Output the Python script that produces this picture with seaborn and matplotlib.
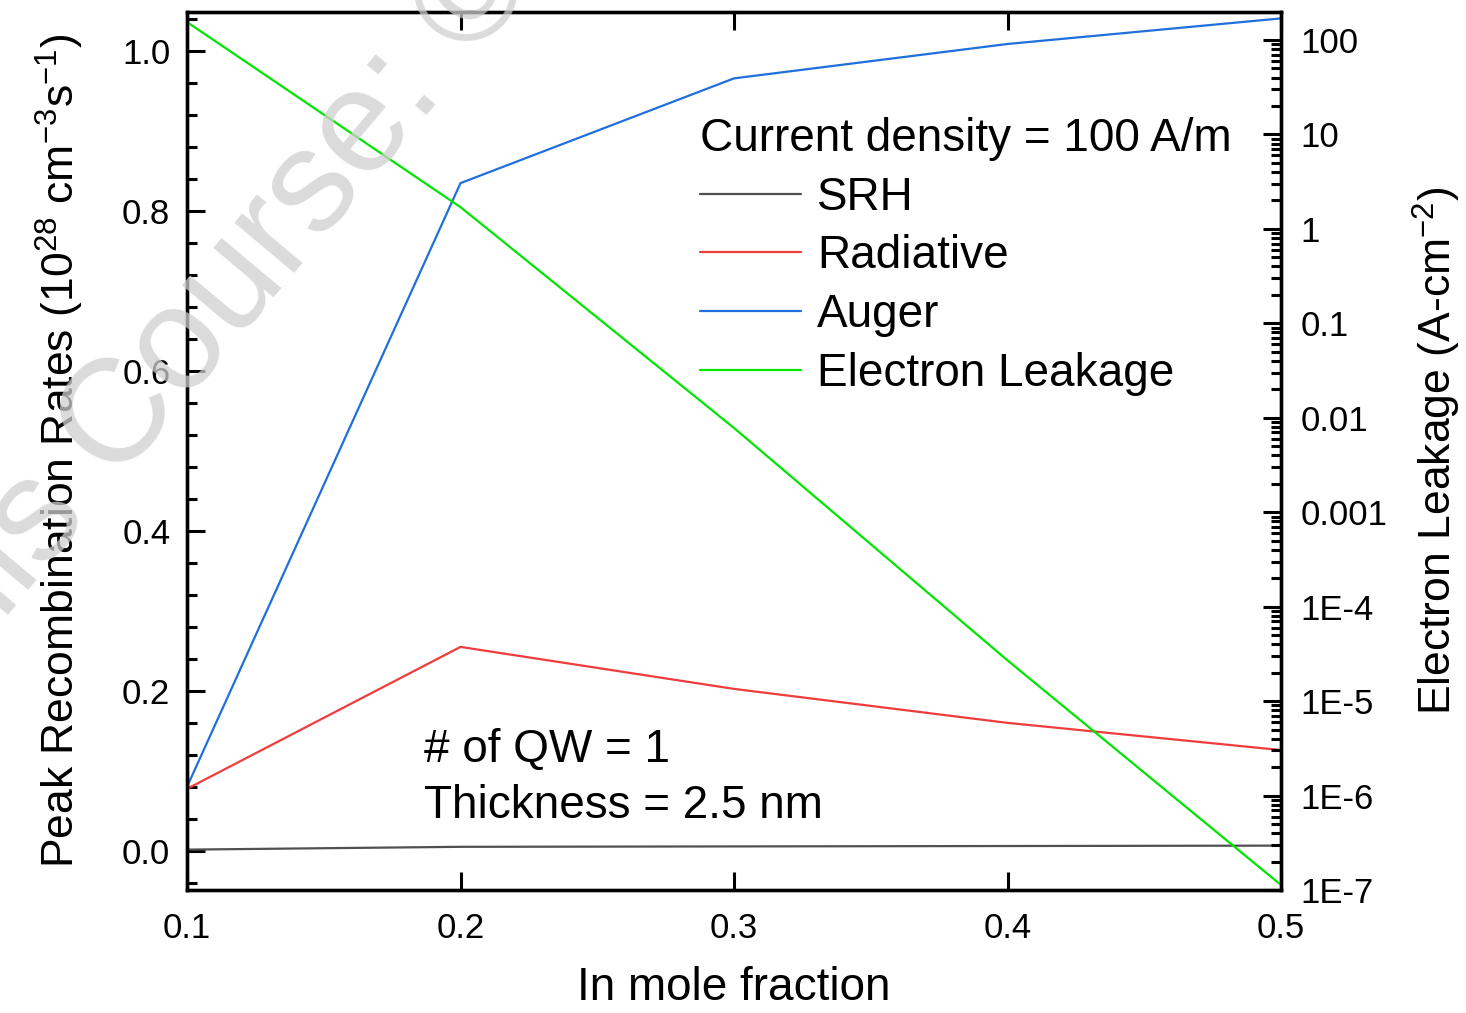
import numpy as np
import pandas as pd
import matplotlib
matplotlib.use("Agg")
import matplotlib.pyplot as plt
import seaborn as sns
from matplotlib.ticker import FixedLocator, MultipleLocator, LogLocator, NullFormatter, FuncFormatter

# data
in_fraction = [0.1, 0.2, 0.3, 0.4, 0.5]
srh = [0.0015, 0.005, 0.0055, 0.006, 0.0065]
radiative = [0.0775, 0.255, 0.2025, 0.16, 0.126]
auger = [0.08, 0.835, 0.966, 1.009, 1.041]
leakage = [155.0, 1.7, 0.0078, 2.7e-5, 1.13e-7]

right_ticks = [1e-7, 1e-6, 1e-5, 1e-4, 1e-3, 1e-2, 1e-1, 1, 10, 100]
right_labels = ["1E-7", "1E-6", "1E-5", "1E-4", "0.001", "0.01", "0.1", "1", "10", "100"]

df = pd.DataFrame({"x": in_fraction, "SRH": srh, "Radiative": radiative,
                   "Auger": auger, "Electron Leakage": leakage})

sns.set_theme(style="ticks")
plt.rcParams["font.family"] = ["Liberation Sans", "DejaVu Sans"]
plt.rcParams["mathtext.fontset"] = "custom"
plt.rcParams["mathtext.rm"] = "Liberation Sans"
plt.rcParams["mathtext.it"] = "Liberation Sans"
plt.rcParams.update({"text.color": "black", "axes.labelcolor": "black",
                     "xtick.color": "black", "ytick.color": "black"})

fig = plt.figure(figsize=(14.66, 10.13), dpi=100)
ax = fig.add_axes([187 / 1466, 1 - 890 / 1013, (1281 - 187) / 1466, (890 - 12) / 1013])
ax2 = ax.twinx()

colors = {"SRH": "#505050", "Radiative": "#f03c3c", "Auger": "#1f6fdc", "Electron Leakage": "#00e600"}
for name in ["SRH", "Radiative", "Auger"]:
    sns.lineplot(data=df, x="x", y=name, ax=ax, color=colors[name], lw=1.6, label=name, legend=False)
sns.lineplot(data=df, x="x", y="Electron Leakage", ax=ax2, color=colors["Electron Leakage"],
             lw=1.6, label="Electron Leakage", legend=False)

ax.set_xlim(0.1, 0.5)
ax.set_ylim(-0.049, 1.049)
ax2.set_yscale("log")
ax2.set_ylim(1e-7, 198)

tick_kw = dict(direction="in", width=2.2, labelsize=25, colors="black")
ax.xaxis.set_major_locator(MultipleLocator(0.1))
ax.xaxis.set_major_formatter(FuncFormatter(lambda v, p: f"{v:.1f}"))
ax.yaxis.set_major_locator(MultipleLocator(0.2))
ax.yaxis.set_minor_locator(MultipleLocator(0.04))
ax.yaxis.set_major_formatter(FuncFormatter(lambda v, p: f"{v:.1f}"))
ax.tick_params(axis="x", which="major", length=13, top=True, pad=16, **tick_kw)
ax.tick_params(axis="y", which="major", length=13, right=False, pad=12, **tick_kw)
ax.tick_params(axis="y", which="minor", length=7, right=False, direction="in", width=2.2)

ax2.yaxis.set_major_locator(FixedLocator(right_ticks))
ax2.yaxis.set_major_formatter(FuncFormatter(lambda v, p: right_labels[right_ticks.index(min(right_ticks, key=lambda t: abs(np.log10(t) - np.log10(v))))]))
ax2.yaxis.set_minor_locator(LogLocator(base=10, subs=np.arange(2, 10), numticks=30))
ax2.yaxis.set_minor_formatter(NullFormatter())
ax2.tick_params(axis="y", which="major", length=13, pad=14, **tick_kw)
ax2.tick_params(axis="y", which="minor", length=7, direction="in", width=2.2)

for a in (ax, ax2):
    for s in a.spines.values():
        s.set_linewidth(2.4)
        s.set_color("black")

ax.set_xlabel("In mole fraction", fontsize=33, labelpad=15)
ax.set_ylabel(r"Peak Recombination Rates (10$^{28}$ cm$^{-3}$s$^{-1}$)", fontsize=32, labelpad=26)
ax2.set_ylabel(r"Electron Leakage (A-cm$^{-2}$)", fontsize=32, labelpad=17)

handles = ax.get_lines()[:3] + ax2.get_lines()[:1]
labels = ["SRH", "Radiative", "Auger", "Electron Leakage"]
leg = ax.legend(handles, labels, title="Current density = 100 A/m", loc="upper left",
                bbox_to_anchor=(700 / 1466, 1 - 117 / 1013), bbox_transform=fig.transFigure,
                frameon=False, fontsize=33, title_fontsize=33, handlelength=2.2,
                handletextpad=0.35, labelspacing=0.32, borderpad=0, borderaxespad=0,
                alignment="left")

ax.text(424 / 1466, 1 - 750 / 1013, "# of QW = 1", transform=fig.transFigure,
        fontsize=33, va="center", ha="left")
ax.text(424 / 1466, 1 - 806 / 1013, "Thickness = 2.5 nm", transform=fig.transFigure,
        fontsize=33, va="center", ha="left")

# faint watermark
fig.text(540 / 1466, 1 - (-20) / 1013, "This Course: \u00a9", fontsize=105, color="#cfcfcf",
         alpha=0.75, rotation=50, rotation_mode="anchor", ha="right", va="baseline", zorder=10)

fig.savefig("out.png", dpi=100)
